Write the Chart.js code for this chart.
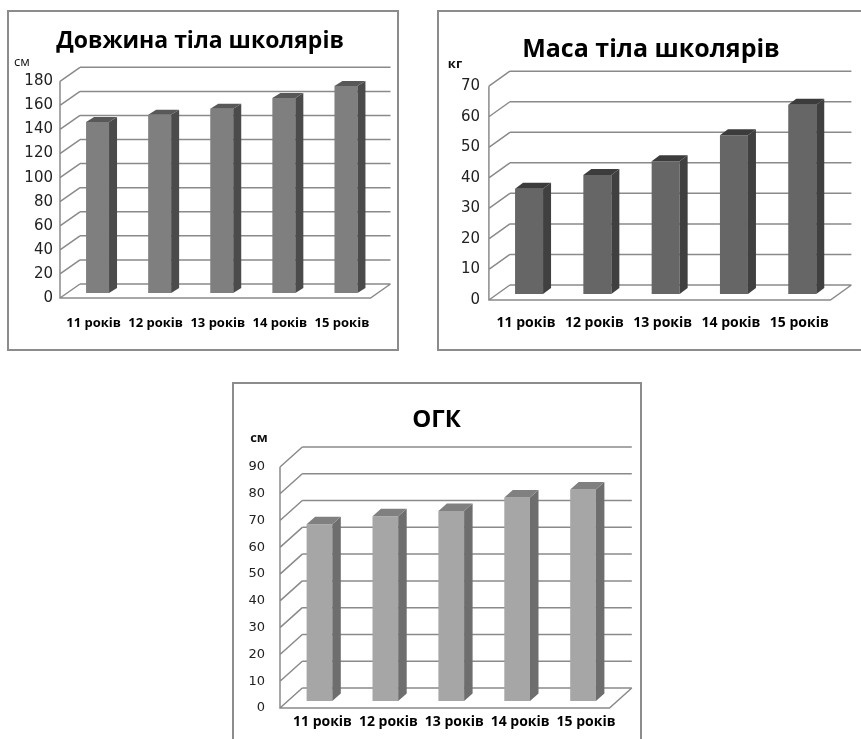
<!DOCTYPE html>
<html>
<head>
<meta charset="utf-8">
<script src="https://cdn.jsdelivr.net/npm/chart.js@4.4.1/dist/chart.umd.min.js"></script>
<style>
    body { margin: 0; background: #fff; }
    #lienzo { position: relative; width: 861px; height: 739px; overflow: hidden; }
    canvas, .marco { position: absolute; }
    .marco { border: 2px solid #8c8c8c; box-sizing: border-box; pointer-events: none; }
</style>
</head>
<body>
<div id="lienzo">
    <canvas id="graficoLongitud" width="392" height="340" style="left:7px;top:10px"></canvas>
    <div class="marco" style="left:7px;top:10px;width:392px;height:341px"></div>

    <canvas id="graficoMasa" width="440" height="340" style="left:437px;top:10px"></canvas>
    <div class="marco" style="left:437px;top:10px;width:440px;height:341px"></div>

    <canvas id="graficoOgk" width="409" height="357" style="left:232px;top:382px"></canvas>
    <div class="marco" style="left:232px;top:382px;width:410px;height:370px"></div>
</div>

<script>
const categorias = ['11 років', '12 років', '13 років', '14 років', '15 років'];

const longitudCuerpo = [142, 148, 153, 162, 172];   // см
const masaCuerpo = [34.5, 39, 43.5, 52, 62];        // кг
const ogk = [66, 69, 71, 76, 79];                   // см

const titulos = ['Довжина тіла школярів', 'Маса тіла школярів', 'ОГК'];
const unidades = ['см', 'кг', 'см'];
const maximosEje = [180, 70, 90];
const pasosEje = [20, 10, 10];

// Plugin para el efecto 3D: pared del fondo, pared izquierda, piso y caras de las barras
const efecto3d = {
    id: 'efecto3d',
    beforeDatasetsDraw(chart, args, opts) {
        const ctx = chart.ctx;
        const a = chart.chartArea;
        const y = chart.scales.y;
        const f = opts.frente, b = opts.fondo;

        ctx.save();
        ctx.strokeStyle = '#8a8a8a';
        ctx.lineWidth = 1.5;
        ctx.beginPath();
        y.ticks.forEach(t => {
            const py = y.getPixelForValue(t.value);
            ctx.moveTo(a.left + b[0], py + b[1]);
            ctx.lineTo(a.right + b[0], py + b[1]);
            ctx.moveTo(a.left + f[0], py + f[1]);
            ctx.lineTo(a.left + b[0], py + b[1]);
        });
        const cero = y.getPixelForValue(y.min);
        ctx.moveTo(a.left + f[0], y.getPixelForValue(y.max) + f[1]);
        ctx.lineTo(a.left + f[0], cero + f[1]);
        ctx.lineTo(a.right + f[0], cero + f[1]);
        ctx.lineTo(a.right + b[0], cero + b[1]);
        ctx.stroke();
        ctx.restore();
    },
    afterDatasetsDraw(chart, args, opts) {
        const ctx = chart.ctx;
        const [dx, dy] = opts.profundidad;
        ctx.save();
        chart.getDatasetMeta(0).data.forEach(barra => {
            const { x, y, base, width } = barra.getProps(['x', 'y', 'base', 'width'], true);
            const izq = x - width / 2, der = x + width / 2;

            // cara lateral
            ctx.fillStyle = opts.colorLado;
            ctx.beginPath();
            ctx.moveTo(der, y);
            ctx.lineTo(der + dx, y + dy);
            ctx.lineTo(der + dx, base + dy);
            ctx.lineTo(der, base);
            ctx.closePath();
            ctx.fill();

            // tapa
            ctx.fillStyle = opts.colorTapa;
            ctx.beginPath();
            ctx.moveTo(izq, y);
            ctx.lineTo(izq + dx, y + dy);
            ctx.lineTo(der + dx, y + dy);
            ctx.lineTo(der, y);
            ctx.closePath();
            ctx.fill();
        });
        ctx.restore();
    },
    afterDraw(chart, args, opts) {
        // unidad de medida arriba del eje
        const ctx = chart.ctx;
        ctx.save();
        ctx.fillStyle = '#111';
        ctx.font = opts.fuenteUnidad;
        ctx.textAlign = 'center';
        ctx.textBaseline = 'middle';
        ctx.fillText(opts.unidad, opts.posUnidad[0], opts.posUnidad[1]);
        ctx.restore();
    }
};

function mostrarGrafico(idCanvas, i, valores, c) {
    const ctx = document.getElementById(idCanvas).getContext('2d');

    return new Chart(ctx, {
        type: 'bar',
        data: {
            labels: categorias,
            datasets: [{
                data: valores,
                backgroundColor: c.colorFrente,
                borderWidth: 0,
                barPercentage: c.anchoBarra,
                categoryPercentage: 1
            }]
        },
        options: {
            responsive: false,
            animation: false,
            layout: { padding: { left: 0, right: c.margenDer, top: 0, bottom: 0 } },
            plugins: {
                legend: { display: false },
                tooltip: { enabled: false },
                title: {
                    display: true,
                    text: titulos[i],
                    color: '#000',
                    font: { family: 'Open Sans', size: c.fuenteTitulo, weight: 'bold', lineHeight: 1.2 },
                    padding: { top: c.titulo[0], bottom: c.titulo[1] }
                },
                efecto3d: {
                    frente: c.frente,
                    fondo: c.fondo,
                    profundidad: c.profundidad,
                    colorLado: c.colorLado,
                    colorTapa: c.colorTapa,
                    unidad: unidades[i],
                    fuenteUnidad: c.fuenteUnidad,
                    posUnidad: c.posUnidad
                }
            },
            scales: {
                x: {
                    grid: { display: false, drawTicks: false },
                    border: { display: false },
                    ticks: {
                        color: '#000',
                        font: { family: 'Open Sans', size: c.fuenteCat, weight: 'bold' },
                        padding: c.padCat,
                        labelOffset: c.despCat,
                        maxRotation: 0,
                        autoSkip: false
                    },
                    afterFit: scale => { scale.height = c.altoX; }
                },
                y: {
                    min: 0,
                    max: maximosEje[i],
                    grid: { display: false, drawTicks: false },
                    border: { display: false },
                    ticks: {
                        stepSize: pasosEje[i],
                        color: '#222',
                        font: { family: 'DejaVu Sans', size: c.fuenteEje },
                        padding: c.padEje,
                        labelOffset: c.frente[1]
                    },
                    afterFit: scale => { scale.width = c.anchoY; }
                },
                // eje vacío a la derecha, solo deja espacio para centrar el título como el original
                extra: {
                    position: 'right',
                    grid: { display: false, drawTicks: false },
                    border: { display: false },
                    ticks: { display: false },
                    afterFit: scale => { scale.width = c.espacioDer; }
                }
            }
        },
        plugins: [efecto3d]
    });
}

mostrarGrafico('graficoLongitud', 0, longitudCuerpo, {
    margenDer: 6, espacioDer: 16, anchoY: 59.5, altoX: 57, titulo: [17.6, 21.1], fuenteTitulo: 23,
    fuenteEje: 15, padEje: 13.5, fuenteCat: 13, padCat: 22.2, despCat: -4,
    anchoBarra: 0.37, frente: [-6.5, 5], fondo: [13.5, -9], profundidad: [8, -5],
    colorFrente: '#7f7f7f', colorLado: '#4b4b4b', colorTapa: '#585858',
    fuenteUnidad: '13px "Open Sans"', posUnidad: [15, 52]
});

mostrarGrafico('graficoMasa', 1, masaCuerpo, {
    margenDer: 12, espacioDer: 28.6, anchoY: 57.9, altoX: 56, titulo: [24.6, 15.6], fuenteTitulo: 25,
    fuenteEje: 15, padEje: 14.9, fuenteCat: 14, padCat: 20.6, despCat: -3,
    anchoBarra: 0.41, frente: [-6, 6], fondo: [15, -9], profundidad: [8, -6],
    colorFrente: '#666666', colorLado: '#404040', colorTapa: '#3c3c3c',
    fuenteUnidad: 'bold 13px "Open Sans"', posUnidad: [18, 54]
});

mostrarGrafico('graficoOgk', 2, ogk, {
    margenDer: 0, espacioDer: 25, anchoY: 54.5, altoX: 38, titulo: [24.1, 25.1], fuenteTitulo: 24,
    fuenteEje: 13, padEje: 21.5, fuenteCat: 14, padCat: 12.3, despCat: 3,
    anchoBarra: 0.39, frente: [-6.5, 7], fondo: [15.8, -13], profundidad: [8.5, -7.5],
    colorFrente: '#a6a6a6', colorLado: '#6e6e6e', colorTapa: '#808080',
    fuenteUnidad: 'bold 13px "Open Sans"', posUnidad: [27, 56]
});
</script>
</body>
</html>
